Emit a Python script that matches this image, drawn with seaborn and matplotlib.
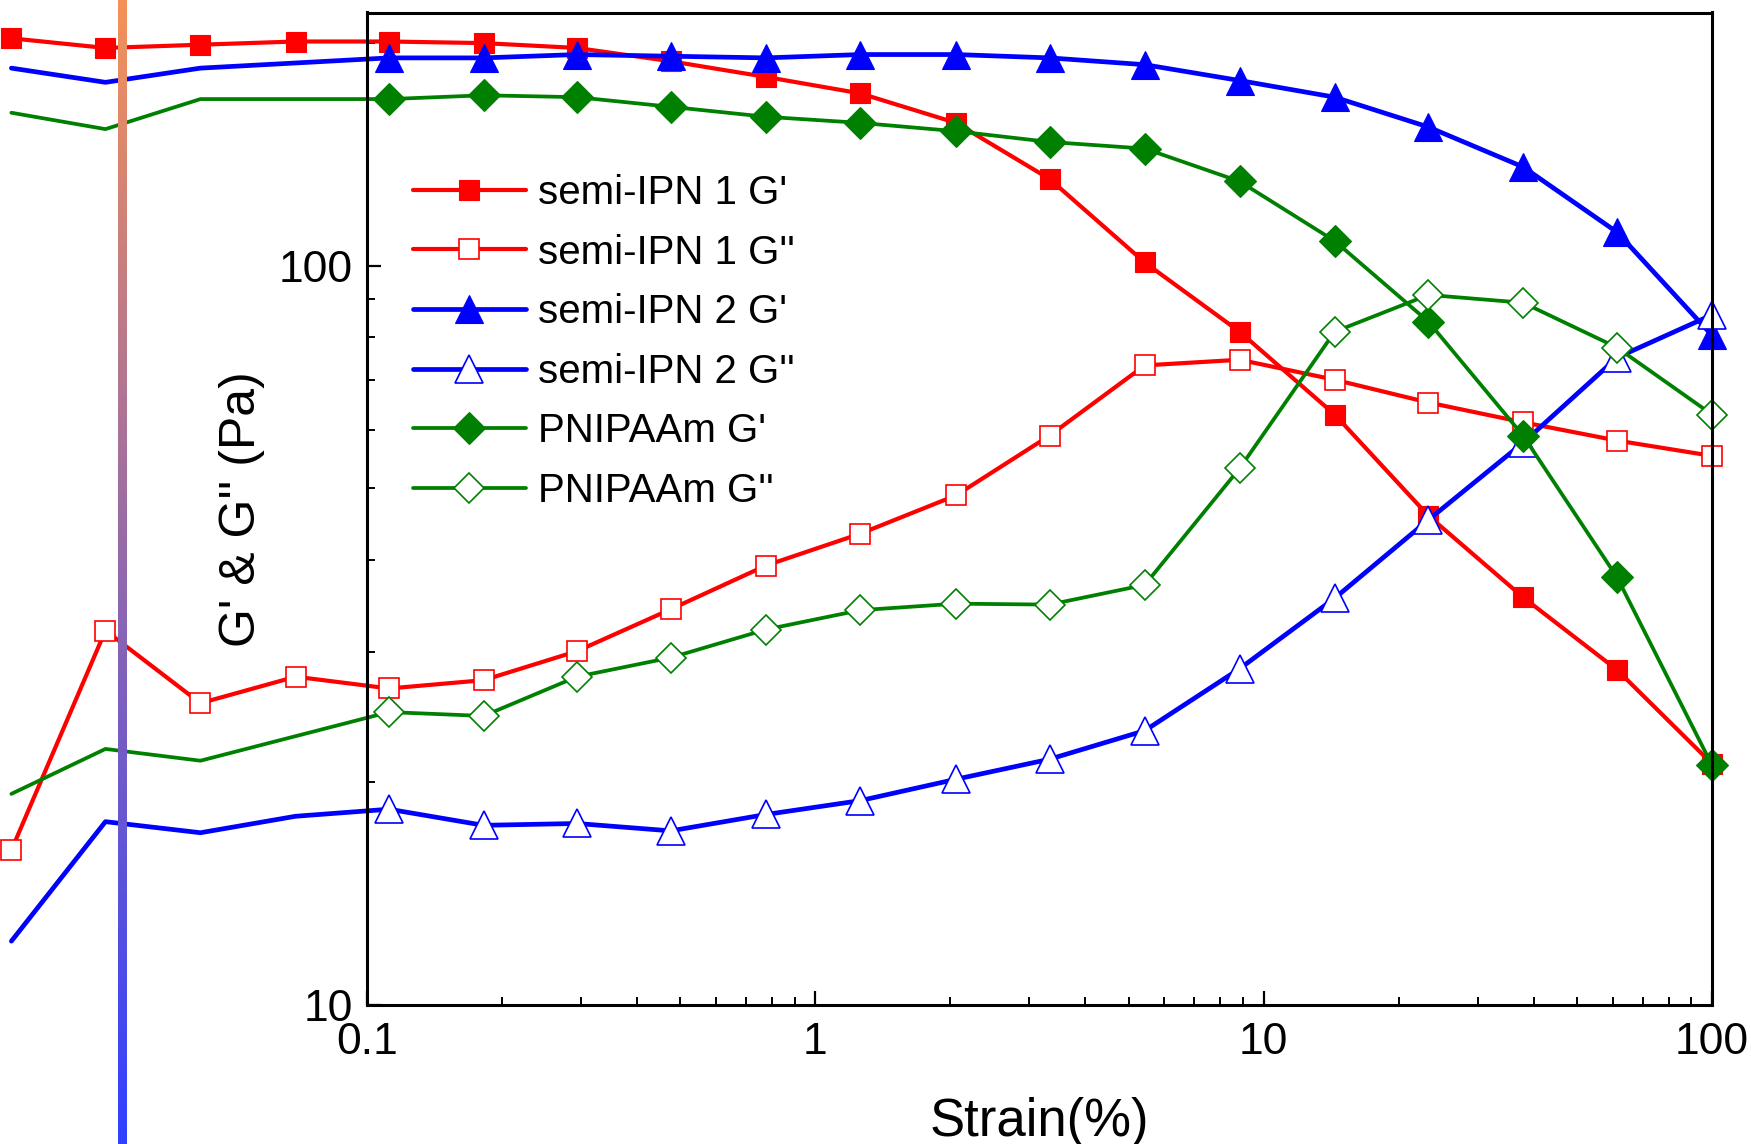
import numpy as np
import pandas as pd
import matplotlib
matplotlib.use('Agg')
import matplotlib.pyplot as plt
import seaborn as sns
from matplotlib.lines import Line2D
from matplotlib.collections import LineCollection
from matplotlib.transforms import blended_transform_factory
from matplotlib.ticker import LogLocator, NullFormatter, FixedFormatter, FixedLocator

# strain sweep (%)
strain = [0.0161, 0.0261, 0.0425, 0.0693, 0.112, 0.182, 0.294, 0.476, 0.776, 1.26,
          2.06, 3.33, 5.43, 8.84, 14.4, 23.3, 37.9, 61.4, 100]

ipn1_g1 = [203, 197, 199, 201, 201, 200, 197, 189, 180, 171,
           156, 131, 101, 81.4, 62.9, 45.9, 35.6, 28.4, 21.2]
ipn1_g2 = [16.2, 32.1, 25.6, 27.8, 26.8, 27.5, 30.1, 34.3, 39.3, 43.4,
           48.9, 58.9, 73.3, 74.6, 70.1, 65.3, 61.4, 58.0, 55.3]
ipn2_g1 = [185, 177, 185, 188, 191, 191, 193, 192, 191, 193,
           193, 191, 187, 178, 169, 154, 136, 111, 80.5]
ipn2_g2 = [12.2, 17.7, 17.1, 18.0, 18.4, 17.5, 17.6, 17.2, 18.1, 18.9,
           20.2, 21.5, 23.5, 28.5, 35.5, 45.3, 57.6, 75.1, 85.8]
pnipaam_g1 = [161, 153, 168, 168, 168, 170, 169, 164, 159, 156,
              152, 147, 144, 130, 108, 84.0, 58.9, 37.9, 21.1]
pnipaam_g2 = [19.3, 22.2, 21.4, 23.1, 24.9, 24.6, 27.8, 29.5, 32.2, 34.2,
              34.9, 34.8, 37.0, 53.2, 81.4, 91.3, 89.1, 77.5, 62.9]

labels = ["semi-IPN 1 G'", "semi-IPN 1 G''", "semi-IPN 2 G'", "semi-IPN 2 G''",
          "PNIPAAm G'", "PNIPAAm G''"]
x_ticks = [0.1, 1, 10, 100]
x_ticklabels = ['0.1', '1', '10', '100']
y_ticks = [10, 100]
y_ticklabels = ['10', '100']
vline_x = 0.0284

sns.set_style('ticks')
plt.rcParams['font.family'] = ['Liberation Sans', 'DejaVu Sans']
plt.rcParams['text.color'] = 'black'
plt.rcParams['axes.labelcolor'] = 'black'
plt.rcParams['xtick.color'] = 'black'
plt.rcParams['ytick.color'] = 'black'
narrow = ['Liberation Sans Narrow', 'Liberation Sans', 'DejaVu Sans']

red, blue, green = '#FF0000', '#0000FF', '#008000'

fig = plt.figure(figsize=(17.51, 11.44), dpi=100)
ax = fig.add_axes([367 / 1751, 139 / 1144, 1345 / 1751, 992.5 / 1144])
ax.set_xscale('log')
ax.set_yscale('log')

# gradient line running through the whole figure
trans = blended_transform_factory(ax.transData, fig.transFigure)
n = 120
ys = np.linspace(1, 0, n + 1)
segs = [[(vline_x, ys[i]), (vline_x, ys[i + 1])] for i in range(n)]
top_c = np.array([244, 145, 88]) / 255
bot_c = np.array([48, 64, 255]) / 255
t = np.linspace(0, 1, n)[:, None]
cols = top_c * (1 - t) + bot_c * t
lc = LineCollection(segs, colors=cols, linewidths=5.2, transform=trans, zorder=1,
                    clip_on=False, antialiaseds=False, capstyle='projecting')
fig.add_artist(lc)

series = [
    (ipn1_g1, red, 's', 15, True, 3.0, True),
    (ipn1_g2, red, 's', 15, False, 3.0, True),
    (ipn2_g1, blue, '^', 20, True, 3.4, False),
    (ipn2_g2, blue, '^', 20, False, 3.4, False),
    (pnipaam_g1, green, 'D', 16.5, True, 2.7, False),
    (pnipaam_g2, green, 'D', 15.5, False, 2.7, False),
]

handles = []
for vals, c, m, ms, filled, lw, left_markers in series:
    mfc = c if filled else 'white'
    mew = 0.8 if filled else 1.2
    mkw = dict(marker=m, markersize=ms, markerfacecolor=mfc, markeredgecolor=c,
               markeredgewidth=mew)
    if left_markers:
        sns.lineplot(x=strain, y=vals, ax=ax, color=c, lw=lw, sort=False,
                     clip_on=False, zorder=3, **mkw)
    else:
        # line continues left of the frame, markers only inside
        sns.lineplot(x=strain[:5], y=vals[:5], ax=ax, color=c, lw=lw, sort=False,
                     clip_on=False, zorder=3)
        sns.lineplot(x=strain[4:], y=vals[4:], ax=ax, color=c, lw=lw, sort=False,
                     clip_on=False, zorder=3, **mkw)
    handles.append(Line2D([], [], color=c, lw=lw, **mkw))

ax.set_xlim(0.1, 100)
ax.set_ylim(10, 220)

ax.xaxis.set_major_locator(FixedLocator(x_ticks))
ax.xaxis.set_major_formatter(FixedFormatter(x_ticklabels))
ax.xaxis.set_minor_locator(LogLocator(base=10, subs=np.arange(2, 10)))
ax.xaxis.set_minor_formatter(NullFormatter())
ax.yaxis.set_major_locator(FixedLocator(y_ticks))
ax.yaxis.set_major_formatter(FixedFormatter(y_ticklabels))
ax.yaxis.set_minor_locator(LogLocator(base=10, subs=np.arange(2, 10)))
ax.yaxis.set_minor_formatter(NullFormatter())

ax.tick_params(which='both', direction='in', top=False, right=False, colors='black')
ax.tick_params(which='major', length=10, width=1.6, labelsize=32)
ax.tick_params(which='minor', length=6, width=1.4)
ax.tick_params(axis='x', which='major', pad=12)
ax.tick_params(axis='y', which='major', pad=10)
for lab in ax.get_xticklabels() + ax.get_yticklabels():
    lab.set_family(narrow)

for s in ax.spines.values():
    s.set_linewidth(2.2)
    s.set_color('black')
    s.set_zorder(4)

ax.set_xlabel('Strain(%)', fontsize=38, family=narrow, labelpad=25)
ax.set_ylabel("G' & G'' (Pa)", fontsize=36, labelpad=10)

ax.legend(handles, labels, loc='upper left',
          bbox_to_anchor=(413 / 1751, 1 - 174 / 1144), bbox_transform=fig.transFigure,
          frameon=False, fontsize=29, handlelength=2.8, handletextpad=0.3,
          labelspacing=0.535, borderpad=0, borderaxespad=0)

fig.savefig('out.png', dpi=100)
